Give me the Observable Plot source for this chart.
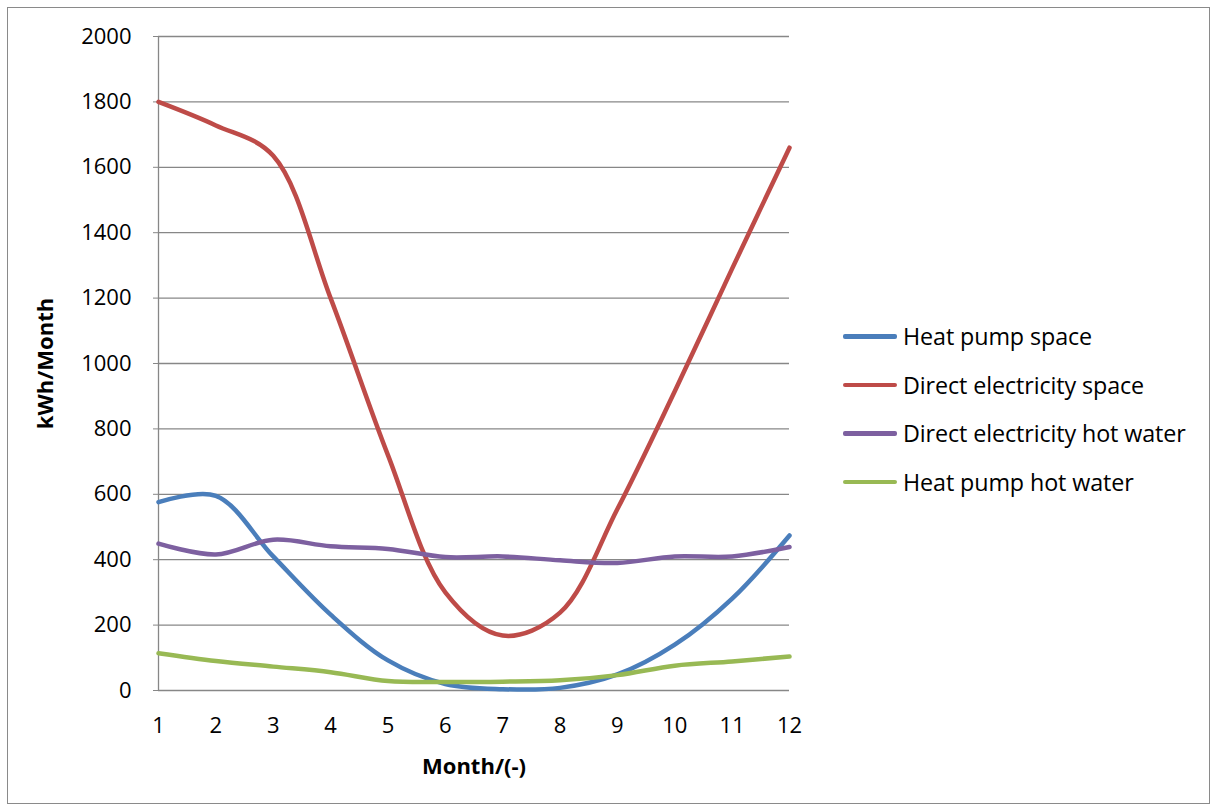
<!DOCTYPE html>
<html>
<head>
<meta charset="utf-8">
<script src="https://cdn.jsdelivr.net/npm/d3@7"></script>
<script src="https://cdn.jsdelivr.net/npm/@observablehq/plot@0.6"></script>
<style>
  html, body { margin: 0; padding: 0; background: #fff; }
  #wrap { position: relative; width: 1216px; height: 810px; font-family: "Open Sans", sans-serif; }
  #frame { position: absolute; left: 7px; top: 7px; width: 1201px; height: 795px; border: 1.5px solid #8a8a8a; pointer-events: none; }
  #legend { position: absolute; left: 843px; top: 312px; }
  .row { display: flex; align-items: center; height: 48.5px; font-size: 23.3px; color: #000; white-space: nowrap; letter-spacing: -0.1px; }
  .sw { width: 54px; height: 4.5px; border-radius: 2px; margin-right: 6px; }
  svg { display: block; }
</style>
</head>
<body>
<div id="wrap">
  <div id="chart"></div>
  <div id="legend"></div>
  <div id="frame"></div>
</div>
<script>
const months = [1, 2, 3, 4, 5, 6, 7, 8, 9, 10, 11, 12];
const seriesNames = ["Heat pump space", "Direct electricity space", "Direct electricity hot water", "Heat pump hot water"];
const seriesColors = ["#4a7ebb", "#be4b48", "#7d60a0", "#98b954"];
const heatPumpSpace = [576, 595, 410, 232, 92, 20, 4, 8, 49, 140, 281, 474];
const directElectricitySpace = [1800, 1728, 1635, 1200, 720, 300, 168, 238, 555, 915, 1290, 1660];
const directElectricityHotWater = [449, 416, 461, 441, 433, 408, 410, 398, 390, 410, 410, 439];
const heatPumpHotWater = [114, 90, 73, 56, 29, 26, 27, 31, 47, 76, 89, 104];
const yTicks = [0, 200, 400, 600, 800, 1000, 1200, 1400, 1600, 1800, 2000];

const seriesValues = [heatPumpSpace, directElectricitySpace, directElectricityHotWater, heatPumpHotWater];
const rows = [];
seriesNames.forEach((name, i) => {
  months.forEach((m, j) => rows.push({series: name, month: m, value: seriesValues[i][j]}));
});

const chart = Plot.plot({
  width: 1216,
  height: 810,
  marginLeft: 158,
  marginRight: 427,
  marginTop: 36,
  marginBottom: 120,
  style: {fontFamily: "'Open Sans', sans-serif", fontSize: "22px", color: "#000", background: "transparent"},
  x: {domain: [1, 12], ticks: months, tickSize: 0, tickPadding: 27, label: null, tickFormat: d => String(d)},
  y: {domain: [0, 2000], ticks: yTicks, tickSize: 5, tickPadding: 22, label: null, tickFormat: d => String(d)},
  color: {domain: seriesNames, range: seriesColors},
  marks: [
    Plot.gridY(yTicks, {stroke: "#878787", strokeOpacity: 1, strokeWidth: 1.3}),
    Plot.axisY({ticks: yTicks, tickSize: 5, tickPadding: 22, stroke: "#878787", strokeOpacity: 1, fontSize: 22, label: null, tickFormat: d => String(d)}),
    Plot.axisX({ticks: months, tickSize: 0, tickPadding: 27, fontSize: 22, label: null, tickFormat: d => String(d)}),
    Plot.ruleX([1], {stroke: "#878787", strokeWidth: 1.3}),
    Plot.line(rows, {x: "month", y: "value", z: "series", stroke: "series", strokeWidth: 4.5, curve: "catmull-rom"}),
    Plot.text(["kWh/Month"], {frameAnchor: "left", textAnchor: "middle", dx: -113, rotate: -90, fontWeight: "bold", fontSize: 22}),
    Plot.text(["Month/(-)"], {frameAnchor: "bottom", dy: 83, fontWeight: "bold", fontSize: 22})
  ]
});
document.getElementById("chart").appendChild(chart);

const legend = document.getElementById("legend");
seriesNames.forEach((name, i) => {
  const row = document.createElement("div");
  row.className = "row";
  const sw = document.createElement("div");
  sw.className = "sw";
  sw.style.background = seriesColors[i];
  const label = document.createElement("span");
  label.textContent = name;
  row.appendChild(sw);
  row.appendChild(label);
  legend.appendChild(row);
});
</script>
</body>
</html>
